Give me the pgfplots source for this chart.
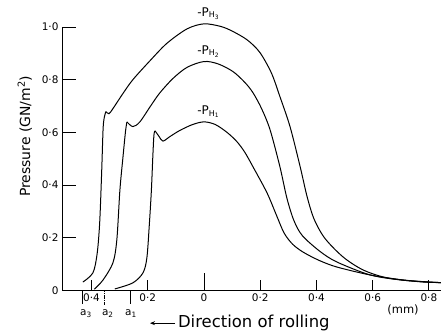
\documentclass[border=0pt]{standalone}
\usepackage{fontspec}
\setmainfont{DejaVu Sans}
\usepackage{pgfplots}
\pgfplotsset{compat=1.18}
\usetikzlibrary{arrows.meta}
\begin{document}
\begin{tikzpicture}
\begin{axis}[
  scale only axis, width=379bp, height=263.5bp,
  xmin=-0.505, xmax=0.843, ymin=0, ymax=1,
  axis x line=bottom, axis y line=left,
  axis line style={-, line width=0.9bp},
  clip=false,
  tick align=inside, major tick length=14bp,
  xtick={-0.4,-0.2,0,0.2,0.4,0.6,0.8},
  xticklabels={0·4,0·2,0,0·2,0·4,0·6,0·8},
  xtick style={draw=none},
  ytick={0,0.2,0.4,0.6,0.8,1},
  yticklabels={0,0·2,0·4,0·6,0·8,1·0},
  ytick style={line width=0.9bp, black},
  tick label style={font=\fontsize{10.5}{12}\selectfont},
  every axis plot/.append style={line width=1bp, black},
]
% P_H3
\addplot[smooth, tension=0.5] coordinates {(-0.431,0.032) (-0.395,0.067) (-0.380,0.140) (-0.371,0.257) (-0.364,0.447) (-0.359,0.610) (-0.355,0.655) (-0.349,0.679)};
\addplot[smooth, tension=0.5] coordinates {(-0.349,0.679) (-0.338,0.671) (-0.324,0.690) (-0.288,0.748) (-0.253,0.800) (-0.192,0.872) (-0.132,0.938) (-0.060,0.993) (0,1.012) (0.060,1.002) (0.103,0.983) (0.155,0.950) (0.199,0.903) (0.240,0.825) (0.270,0.736) (0.306,0.622) (0.342,0.470) (0.367,0.355) (0.392,0.270) (0.430,0.198) (0.495,0.127) (0.566,0.078) (0.651,0.048) (0.769,0.033) (0.843,0.030)};
% P_H2
\addplot[smooth, tension=0.5] coordinates {(-0.390,0.005) (-0.359,0.040) (-0.324,0.105) (-0.310,0.192) (-0.299,0.382) (-0.288,0.508) (-0.279,0.605) (-0.274,0.640)};
\addplot[smooth, tension=0.5] coordinates {(-0.274,0.640) (-0.253,0.622) (-0.228,0.640) (-0.190,0.700) (-0.157,0.750) (-0.110,0.805) (-0.060,0.847) (0,0.869) (0.050,0.860) (0.103,0.831) (0.145,0.790) (0.174,0.751) (0.205,0.690) (0.235,0.610) (0.270,0.470) (0.295,0.350) (0.320,0.265) (0.350,0.208) (0.413,0.148) (0.473,0.108) (0.591,0.059) (0.700,0.040) (0.800,0.032) (0.843,0.030)};
% P_H1
\addplot[smooth, tension=0.5] coordinates {(-0.317,0.006) (-0.253,0.029) (-0.217,0.067) (-0.203,0.125) (-0.194,0.257) (-0.187,0.382) (-0.182,0.508) (-0.178,0.590) (-0.174,0.606)};
\addplot[smooth, tension=0.5] coordinates {(-0.174,0.606) (-0.160,0.585) (-0.146,0.567) (-0.120,0.585) (-0.085,0.608) (-0.040,0.630) (0,0.640) (0.040,0.630) (0.082,0.600) (0.117,0.565) (0.145,0.525) (0.174,0.470) (0.224,0.371) (0.258,0.285) (0.285,0.218) (0.315,0.176) (0.352,0.146) (0.410,0.114) (0.473,0.089) (0.591,0.059) (0.708,0.040) (0.804,0.032) (0.843,0.030)};
% x ticks (drawn upward)
\draw[line width=0.9bp] (axis cs:-0.4,0) -- ++(0pt,10bp);
\draw[line width=0.9bp] (axis cs:-0.2,0) -- ++(0pt,10bp);
\draw[line width=0.9bp] (axis cs:0,0) -- ++(0pt,17bp);
\draw[line width=0.9bp] (axis cs:0.2,0) -- ++(0pt,10bp);
\draw[line width=0.9bp] (axis cs:0.4,0) -- ++(0pt,10bp);
\draw[line width=0.9bp] (axis cs:0.6,0) -- ++(0pt,10bp);
\draw[line width=0.9bp] (axis cs:0.8,0) -- ++(0pt,10bp);
% contact markers a3 a2 a1
\draw[line width=0.8bp] (axis cs:-0.431,0) -- (axis cs:-0.431,-0.053);
\draw[line width=0.6bp, dash pattern=on 1.5bp off 0.8bp] (axis cs:-0.356,0) -- (axis cs:-0.356,-0.053);
\draw[line width=0.8bp] (axis cs:-0.263,0) -- (axis cs:-0.263,-0.053);
\node[font=\fontsize{10.5}{12}\selectfont] at (axis cs:-0.420,-0.088) {a\textsubscript{3}};
\node[font=\fontsize{10.5}{12}\selectfont] at (axis cs:-0.342,-0.088) {a\textsubscript{2}};
\node[font=\fontsize{10.5}{12}\selectfont] at (axis cs:-0.260,-0.088) {a\textsubscript{1}};
% curve labels
\node[font=\fontsize{12}{13}\selectfont] at (axis cs:0.016,1.051) {-P\textsubscript{H\textsubscript{3}}};
\node[font=\fontsize{12}{13}\selectfont] at (axis cs:0.016,0.907) {-P\textsubscript{H\textsubscript{2}}};
\node[font=\fontsize{12}{13}\selectfont] at (axis cs:0.016,0.679) {-P\textsubscript{H\textsubscript{1}}};
% axis labels
\node[rotate=90, font=\fontsize{14}{16}\selectfont] at (axis cs:-0.637,0.585) {Pressure (GN/m\textsuperscript{2})};
\node[font=\fontsize{11.5}{13}\selectfont] at (axis cs:0.708,-0.074) {(mm)};
\draw[line width=1bp, -{Stealth[length=5bp,width=4bp]}] (axis cs:-0.103,-0.124) -- (axis cs:-0.192,-0.124);
\node[anchor=west, inner sep=0pt, font=\fontsize{16.5}{18}\selectfont] at (axis cs:-0.093,-0.125) {Direction of rolling};
\coordinate (O) at (rel axis cs:0,0);
\end{axis}
\pgfresetboundingbox
\path[use as bounding box] (O) ++(-62bp,-41.5bp) rectangle ++(441bp,332bp);
\end{tikzpicture}
\end{document}
